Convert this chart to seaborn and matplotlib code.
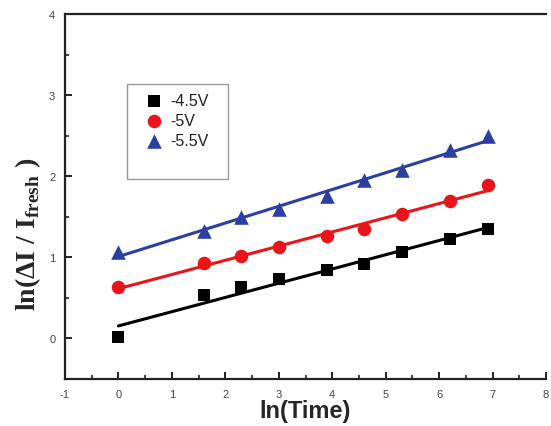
import numpy as np
import pandas as pd
import matplotlib
matplotlib.use("Agg")
import matplotlib.pyplot as plt
from matplotlib.patches import Rectangle
from matplotlib.ticker import MultipleLocator
import seaborn as sns

# data
ln_time = [0.0, 1.61, 2.30, 3.00, 3.91, 4.60, 5.30, 6.21, 6.91]
v45 = [0.02, 0.53, 0.64, 0.73, 0.84, 0.92, 1.07, 1.23, 1.35]
v50 = [0.63, 0.93, 1.02, 1.13, 1.26, 1.35, 1.53, 1.70, 1.89]
v55 = [1.07, 1.32, 1.50, 1.59, 1.76, 1.95, 2.08, 2.32, 2.49]
labels = ["-4.5V", "-5V", "-5.5V"]
series = [v45, v50, v55]

sns.set_style("ticks")
plt.rcParams["font.family"] = ["Liberation Sans", "DejaVu Sans"]
plt.rcParams["mathtext.fontset"] = "custom"
plt.rcParams["mathtext.rm"] = "Liberation Serif:bold"
plt.rcParams["mathtext.bf"] = "Liberation Serif:bold"
plt.rcParams["axes.unicode_minus"] = False

fig = plt.figure(figsize=(5.51, 4.27), dpi=100)
ax = fig.add_axes([65 / 551, 47 / 427, 481 / 551, 365 / 427])

colors = ["#000000", "#e8141a", "#2b3fa0"]
markers = ["s", "o", "^"]
sizes = [70, 95, 110]
handles = []
for lab, ys, c, m, s in zip(labels, series, colors, markers, sizes):
    df = pd.DataFrame({"x": ln_time, "y": ys})
    sns.regplot(data=df, x="x", y="y", ci=None, ax=ax, color=c, marker=m,
                scatter_kws={"s": s, "linewidths": 0, "alpha": 1, "zorder": 3},
                line_kws={"lw": 2.2, "zorder": 2})
    h = ax.scatter([], [], marker=m, s=s, color=c, linewidths=0, label=lab)
    handles.append(h)

ax.set_xlim(-1, 8)
ax.set_ylim(-0.5, 4)
ax.xaxis.set_major_locator(MultipleLocator(1))
ax.xaxis.set_minor_locator(MultipleLocator(0.5))
ax.yaxis.set_major_locator(MultipleLocator(1))
ax.yaxis.set_minor_locator(MultipleLocator(0.5))
ax.tick_params(which="both", direction="in", top=False, right=False,
               labelsize=8, labelcolor="#444444", color="#222222")
ax.tick_params(which="major", length=5, width=1.4)
ax.tick_params(which="minor", length=3, width=1.2)
ax.tick_params(axis="x", pad=7)
ax.tick_params(axis="y", pad=7)
for sp in ax.spines.values():
    sp.set_linewidth(1.6)
    sp.set_color("#222222")
ax.spines["right"].set_visible(False)

ax.set_xlabel("ln(Time)", fontsize=17, fontweight="bold", labelpad=0)
ax.set_ylabel("ln(ΔI / I$_{\\mathrm{fresh}}$ )", fontsize=20, fontweight="bold",
              family="Liberation Serif")
ax.yaxis.set_label_coords(-0.046, 0.40)

leg = ax.legend(handles=handles, loc="upper left", bbox_to_anchor=(0.155, 0.80),
                frameon=False, fontsize=11.5, handletextpad=0.5, labelspacing=0.3,
                borderaxespad=0, handlelength=1.0,
                prop={"family": "Liberation Sans", "size": 11.5})
for t in leg.get_texts():
    t.set_color("#222222")
ax.add_patch(Rectangle((0.129, 0.548), 0.21, 0.26, transform=ax.transAxes,
                       fill=False, edgecolor="#999999", lw=1.0, zorder=4))

fig.savefig("out.png", dpi=100)
